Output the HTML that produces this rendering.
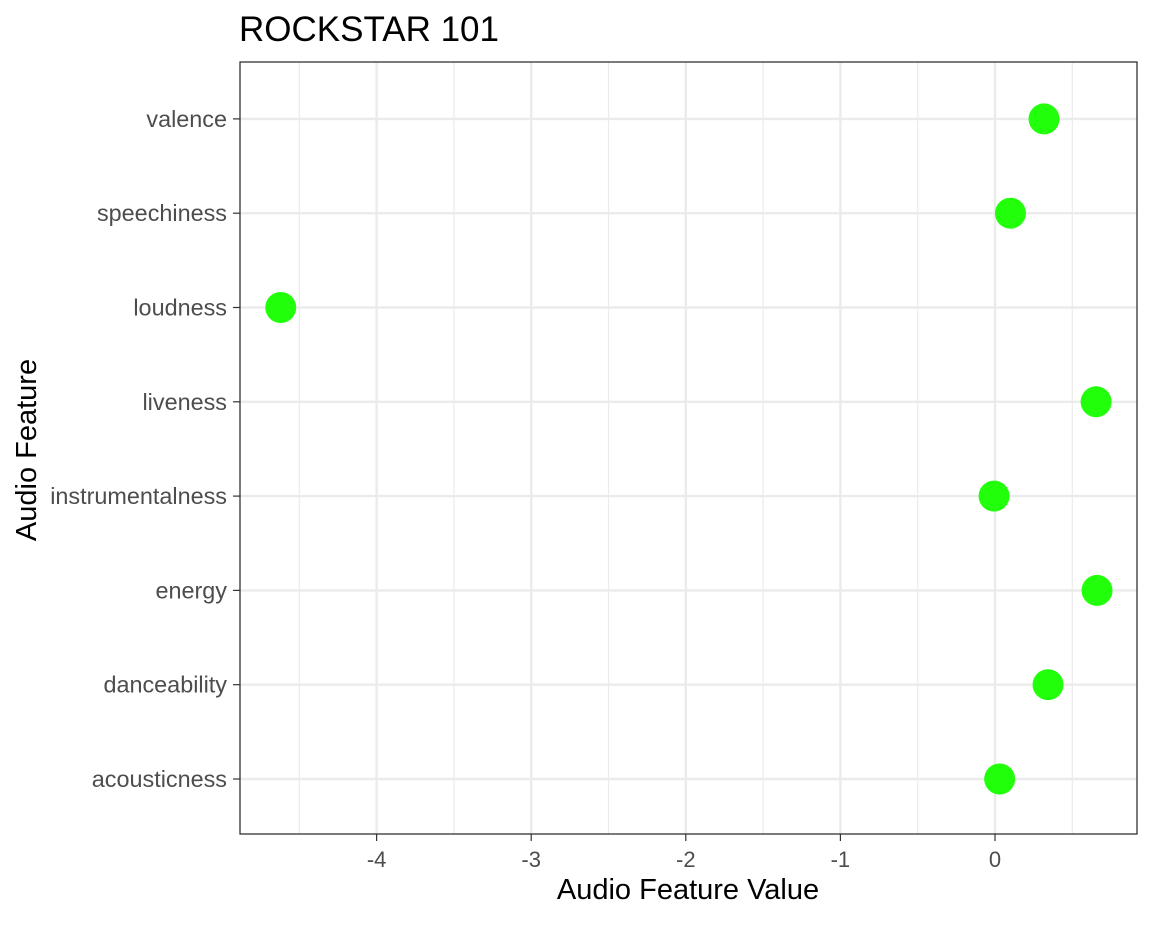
<!DOCTYPE html>
<html><head><meta charset="utf-8"><style>
body{margin:0;background:#fff;}
svg text{font-family:"Liberation Sans",Arial,sans-serif;}
</style></head><body>
<svg id="chart" width="1152" height="921" xmlns="http://www.w3.org/2000/svg">
<text x="239" y="41" font-size="35" fill="#000">ROCKSTAR 101</text>
<g id="grid"></g>
<g id="marks"></g>
<rect x="240" y="62" width="897" height="772" fill="none" stroke="#222" stroke-width="1.2"/>
<g id="axes"></g>
<text x="688" y="899" font-size="29" text-anchor="middle" fill="#000">Audio Feature Value</text>
<text transform="translate(36,450) rotate(-90)" font-size="29" text-anchor="middle" fill="#000">Audio Feature</text>
</svg>
<script>
const categories=["acousticness","danceability","energy","instrumentalness","liveness","loudness","speechiness","valence"];
const values=[0.03,0.343,0.66,-0.006,0.654,-4.62,0.10,0.317];
const xTicks=[-4,-3,-2,-1,0];
const xTickLabels=["-4","-3","-2","-1","0"];
const NS="http://www.w3.org/2000/svg";
const xScale=v=>995+v*154.6;
const yScale=i=>779-i*94.3;
const grid=document.getElementById('grid'),marks=document.getElementById('marks'),axes=document.getElementById('axes');
function mk(tag,attrs,parent){const e=document.createElementNS(NS,tag);for(const k in attrs)e.setAttribute(k,attrs[k]);parent.appendChild(e);return e;}
for(let v=-4.5;v<=0.5;v+=1){
 const l=mk('line',{x1:xScale(v),x2:xScale(v),y1:62,y2:834,stroke:'#ebebeb','stroke-width':1.2},grid);
 
 
}
xTicks.forEach((t,i)=>{
 const x=xScale(t);
 const g=mk('line',{x1:x,x2:x,y1:62,y2:834,stroke:'#ebebeb','stroke-width':2.4},grid);
 
 
 const tk=mk('line',{x1:x,x2:x,y1:834,y2:841,stroke:'#333','stroke-width':1.2},axes);
 
 
 const tx=mk('text',{x:x,y:867,'font-size':22,'text-anchor':'middle',fill:'#4d4d4d'},axes);
 tx.textContent=xTickLabels[i];
 
 
});
categories.forEach((c,i)=>{
 const y=yScale(i);
 const g=mk('line',{x1:240,x2:1137,y1:y,y2:y,stroke:'#ebebeb','stroke-width':2.4},grid);
 
 
 const tk=mk('line',{x1:233,x2:240,y1:y,y2:y,stroke:'#333','stroke-width':1.2},axes);
 
 
 const tx=mk('text',{x:227,y:y+8,'font-size':23.4,'text-anchor':'end',fill:'#4d4d4d'},axes);
 tx.textContent=c;
 
 
 const p=mk('circle',{cx:xScale(values[i]),cy:y,r:15.5,fill:'#22ff0a'},marks);
 
 
});
</script>
</body></html>
